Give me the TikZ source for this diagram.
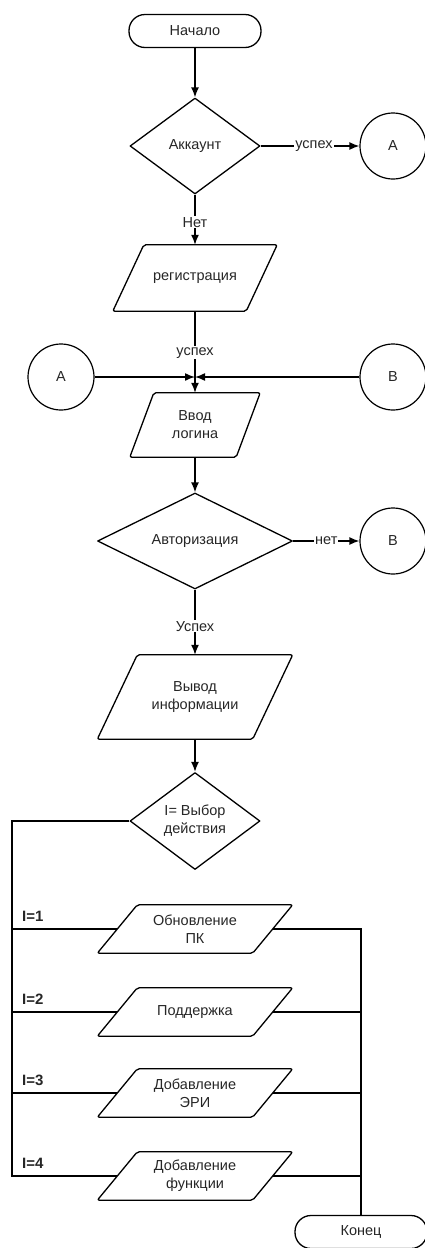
\documentclass[tikz,border=0pt]{standalone}
\usepackage{fontspec}
\setmainfont{Liberation Sans}
\usetikzlibrary{shapes.geometric,arrows.meta}
\newcommand\paraframe[2]{%
  \draw[shapeline, rounded corners=2pt]
    ([xshift=-#2pt]#1.south west) -- ([xshift=-#2pt]#1.south east) --
    ([xshift=#2pt]#1.north east) -- ([xshift=#2pt]#1.north west) -- cycle;}
\begin{document}
\begin{tikzpicture}[x=1pt,y=-1pt,
  base/.style={font=\fontsize{14.5}{18}\selectfont, text=black!85, align=center},
  shapeline/.style={line width=1.3pt, line join=round},
  term/.style={base, draw, shapeline, rounded corners=16pt, minimum width=132pt, minimum height=33pt, fill=white, inner sep=0pt},
  dec/.style={base, draw, diamond, shapeline, shape aspect=1.35, inner sep=0pt, fill=white},
  io/.style={base, rectangle, inner sep=0pt},
  iosmall/.style={io, minimum width=155pt, minimum height=48pt},
  conn/.style={base, draw, circle, line width=1.2pt, minimum size=66pt, inner sep=0pt, fill=white},
  flow/.style={line width=1.5pt},
  arr/.style={flow, -{Latex[length=10pt,width=8pt]}},
  branch/.style={line width=2.2pt, line join=miter},
  lbl/.style={base, fill=white, inner sep=1pt},
  ilbl/.style={font=\fontsize{15}{17}\selectfont\bfseries, text=black!85, inner sep=0pt, anchor=south west}
]
\useasboundingbox (0,0) rectangle (424,1248);

% main column
\node[term] (start) at (195,31) {Начало};
\node[dec, minimum width=130pt, minimum height=96pt] (acc) at (195,146) {Аккаунт};
\node[conn] (A1) at (393,146) {A};
\node[io, minimum width=133pt, minimum height=66pt] (reg) at (195,278) {регистрация};
\paraframe{reg}{15.5}
\coordinate (J) at (195,377);
\node[conn] (A2) at (61,377) {A};
\node[conn] (B1) at (393,377) {B};
\node[io, minimum width=106pt, minimum height=64pt] (login) at (195,425) {Ввод\\логина};
\paraframe{login}{12}
\node[dec, minimum width=195pt, minimum height=96pt] (auth) at (195,541) {Авторизация};
\node[conn] (B2) at (393,541) {B};
\node[io, minimum width=155pt, minimum height=84pt] (out) at (195,697) {Вывод\\информации};
\paraframe{out}{20}
\node[dec, minimum width=130pt, minimum height=97pt] (sel) at (195,821) {I= Выбор\\действия};

% branches
\node[iosmall] (p1) at (195,929) {Обновление\\ПК};
\paraframe{p1}{20}
\node[iosmall] (p2) at (195,1012) {Поддержка};
\paraframe{p2}{20}
\node[iosmall] (p3) at (195,1093) {Добавление\\ЭРИ};
\paraframe{p3}{20}
\node[iosmall] (p4) at (195,1176) {Добавление\\функции};
\paraframe{p4}{20}
\node[term] (end) at (361,1232) {Конец};

\coordinate (L1) at (12,929);
\coordinate (L2) at (12,1012);
\coordinate (L3) at (12,1093);
\coordinate (L4) at (12,1176);
\coordinate (R1) at (361,929);
\coordinate (R2) at (361,1012);
\coordinate (R3) at (361,1093);
\coordinate (R4) at (361,1176);

% flow lines
\draw[arr] (start) -- (acc);
\draw[arr] (acc) -- node[lbl, pos=0.54] {успех} (A1);
\draw[arr] (acc) -- node[lbl, pos=0.55] {Нет} (reg);
\draw[arr] (reg) -- node[lbl, pos=0.51] {успех} (login);
\draw[arr] (A2) -- (J);
\draw[arr] (B1) -- (J);
\draw[arr] (login) -- (auth);
\draw[arr] (auth) -- node[lbl, pos=0.5] {нет} (B2);
\draw[arr] (auth) -- node[lbl, pos=0.56] {Успех} (out);
\draw[arr] (out) -- (sel);

\draw[branch] (sel.west) -| (L4) -- (p4);
\draw[branch] (L1) -- (p1);
\draw[branch] (L2) -- (p2);
\draw[branch] (L3) -- (p3);
\draw[branch] (p1) -- (R1) -- (end);
\draw[branch] (p2) -- (R2);
\draw[branch] (p3) -- (R3);
\draw[branch] (p4) -- (R4);

\node[ilbl] (i1) at (22,922) {I=1};
\node[ilbl] (i2) at (22,1005) {I=2};
\node[ilbl] (i3) at (22,1086) {I=3};
\node[ilbl] (i4) at (22,1169) {I=4};
\end{tikzpicture}
\end{document}
